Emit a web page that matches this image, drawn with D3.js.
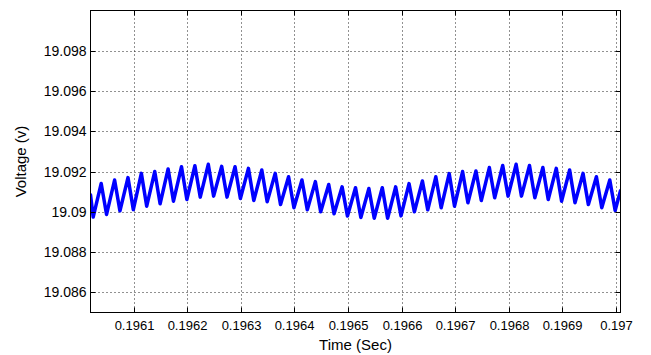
<!DOCTYPE html>
<html>
<head>
<meta charset="utf-8">
<script src="https://cdn.jsdelivr.net/npm/d3@7"></script>
<style>
  html, body { margin: 0; padding: 0; background: #fff; }
  svg { display: block; }
  .tick-label { font-family: "Liberation Sans", Arial, sans-serif; fill: #000; }
</style>
</head>
<body>
<svg id="chart" width="651" height="355"></svg>
<script>
// Ripple crests and valleys of the output voltage (time in s, voltage in V)
const troughTimes = [
  0.196024, 0.196049, 0.196074, 0.196099, 0.196124, 0.196149, 0.196174, 0.196199,
  0.196224, 0.196249, 0.196274, 0.196299, 0.196324, 0.196349, 0.196374, 0.196399,
  0.196424, 0.196449, 0.196474, 0.196499, 0.196524, 0.196549, 0.196574, 0.196599,
  0.196624, 0.196649, 0.196674, 0.196699, 0.196724, 0.196749, 0.196774, 0.196799,
  0.196824, 0.196849, 0.196874, 0.196899, 0.196924, 0.196949, 0.196974, 0.196999
];
const troughVolts = [
  19.08974, 19.08987, 19.09005, 19.09011, 19.09028, 19.09040, 19.09053, 19.09061,
  19.09073, 19.09078, 19.09073, 19.09066, 19.09056, 19.09050, 19.09036, 19.09020,
  19.09010, 19.09000, 19.08990, 19.08979, 19.08972, 19.08968, 19.08968, 19.08980,
  19.09000, 19.09010, 19.09020, 19.09028, 19.09045, 19.09056, 19.09070, 19.09078,
  19.09078, 19.09070, 19.09061, 19.09053, 19.09045, 19.09036, 19.09020, 19.09007
];
const peakTimes = [
  0.196039, 0.196064, 0.196089, 0.196114, 0.196139, 0.196164, 0.196189, 0.196214,
  0.196239, 0.196264, 0.196289, 0.196314, 0.196339, 0.196364, 0.196389, 0.196414,
  0.196439, 0.196464, 0.196489, 0.196514, 0.196539, 0.196564, 0.196589, 0.196614,
  0.196639, 0.196664, 0.196689, 0.196714, 0.196739, 0.196764, 0.196789, 0.196814,
  0.196839, 0.196864, 0.196889, 0.196914, 0.196939, 0.196964, 0.196989
];
const peakVolts = [
  19.09141, 19.09158, 19.09170, 19.09191, 19.09200, 19.09213, 19.09224, 19.09229,
  19.09236, 19.09226, 19.09224, 19.09216, 19.09208, 19.09191, 19.09174, 19.09158,
  19.09150, 19.09136, 19.09124, 19.09120, 19.09116, 19.09120, 19.09124, 19.09140,
  19.09153, 19.09174, 19.09190, 19.09200, 19.09203, 19.09220, 19.09230, 19.09236,
  19.09230, 19.09220, 19.09216, 19.09208, 19.09191, 19.09174, 19.09158
];
// First and last recorded samples
const edgeTimes = [0.196019, 0.197009];
const edgeVolts = [19.09085, 19.09105];

const xTicks = [0.1961, 0.1962, 0.1963, 0.1964, 0.1965, 0.1966, 0.1967, 0.1968, 0.1969, 0.1970];
const xTickLabels = ["0.1961", "0.1962", "0.1963", "0.1964", "0.1965", "0.1966", "0.1967", "0.1968", "0.1969", "0.197"];
const yTicks = [19.086, 19.088, 19.090, 19.092, 19.094, 19.096, 19.098];
const yTickLabels = ["19.086", "19.088", "19.09", "19.092", "19.094", "19.096", "19.098"];
const xTitle = "Time (Sec)";
const yTitle = "Voltage (v)";

// Merge all samples into one time-ordered trace
const samples = []
  .concat(troughTimes.map((t, i) => ({ t, v: troughVolts[i] })))
  .concat(peakTimes.map((t, i) => ({ t, v: peakVolts[i] })))
  .concat(edgeTimes.map((t, i) => ({ t, v: edgeVolts[i] })))
  .sort((a, b) => a.t - b.t);

const plotLeft = 90.5, plotTop = 10.5, plotRight = 620.5, plotBottom = 312.5;

const x = d3.scaleLinear().domain([0.196019, 0.197009]).range([plotLeft, plotRight]);
const y = d3.scaleLinear().domain([19.085, 19.100]).range([plotBottom, plotTop]);

const svg = d3.select("#chart");

// Dotted grid
const grid = svg.append("g").attr("stroke", "#222").attr("stroke-width", 1)
  .attr("stroke-dasharray", "1,3");
grid.selectAll("line.vx").data(xTicks).join("line")
  .attr("x1", d => Math.round(x(d)) + 0.5).attr("x2", d => Math.round(x(d)) + 0.5)
  .attr("y1", plotTop).attr("y2", plotBottom);
grid.selectAll("line.hy").data(yTicks).join("line")
  .attr("y1", d => Math.round(y(d)) + 0.5).attr("y2", d => Math.round(y(d)) + 0.5)
  .attr("x1", plotLeft).attr("x2", plotRight);

// Voltage trace
svg.append("clipPath").attr("id", "plot-clip")
  .append("rect").attr("x", plotLeft).attr("y", plotTop)
  .attr("width", plotRight - plotLeft).attr("height", plotBottom - plotTop);

svg.append("path")
  .datum(samples)
  .attr("clip-path", "url(#plot-clip)")
  .attr("fill", "none")
  .attr("stroke", "#0000ff")
  .attr("stroke-width", 3.5)
  .attr("stroke-linejoin", "round")
  .attr("stroke-linecap", "round")
  .attr("d", d3.line().x(d => x(d.t)).y(d => y(d.v)));

// Axes: ticks pointing inward on all four sides
const tickLen = 5;
const xBottom = svg.append("g").attr("transform", `translate(0,${plotBottom})`)
  .call(d3.axisBottom(x).tickValues(xTicks).tickSizeInner(-tickLen).tickSizeOuter(0)
    .tickFormat((d, i) => xTickLabels[i]));
const xTopAxis = svg.append("g").attr("transform", `translate(0,${plotTop})`)
  .call(d3.axisTop(x).tickValues(xTicks).tickSizeInner(-tickLen).tickSizeOuter(0)
    .tickFormat(""));
const yLeft = svg.append("g").attr("transform", `translate(${plotLeft},0)`)
  .call(d3.axisLeft(y).tickValues(yTicks).tickSizeInner(-tickLen).tickSizeOuter(0)
    .tickFormat((d, i) => yTickLabels[i]));
const yRightAxis = svg.append("g").attr("transform", `translate(${plotRight},0)`)
  .call(d3.axisRight(y).tickValues(yTicks).tickSizeInner(-tickLen).tickSizeOuter(0)
    .tickFormat(""));

[xBottom, xTopAxis, yLeft, yRightAxis].forEach(g => {
  g.select(".domain").remove();
  g.selectAll(".tick line").attr("stroke", "#000");
});

xBottom.selectAll(".tick text")
  .attr("class", "tick-label")
  .attr("font-size", 13)
  .attr("y", 17)
  .attr("dy", "0");
xBottom.selectAll(".tick").attr("transform", d => `translate(${Math.round(x(d)) + 0.5},0)`);
xTopAxis.selectAll(".tick").attr("transform", d => `translate(${Math.round(x(d)) + 0.5},0)`);

yLeft.selectAll(".tick text")
  .attr("class", "tick-label")
  .attr("font-size", 14)
  .attr("x", -4)
  .attr("dy", "0.35em");
yLeft.selectAll(".tick").attr("transform", d => `translate(0,${Math.round(y(d)) + 0.5})`);
yRightAxis.selectAll(".tick").attr("transform", d => `translate(0,${Math.round(y(d)) + 0.5})`);

// Plot frame
svg.append("rect")
  .attr("x", plotLeft).attr("y", plotTop)
  .attr("width", plotRight - plotLeft).attr("height", plotBottom - plotTop)
  .attr("fill", "none").attr("stroke", "#000").attr("stroke-width", 1);

// Axis titles
svg.append("text")
  .attr("class", "tick-label")
  .attr("x", (plotLeft + plotRight) / 2).attr("y", 350)
  .attr("text-anchor", "middle").attr("font-size", 15)
  .text(xTitle);

svg.append("text")
  .attr("class", "tick-label")
  .attr("transform", `translate(26,${(plotTop + plotBottom) / 2}) rotate(-90)`)
  .attr("text-anchor", "middle").attr("font-size", 15)
  .text(yTitle);
</script>
</body>
</html>
